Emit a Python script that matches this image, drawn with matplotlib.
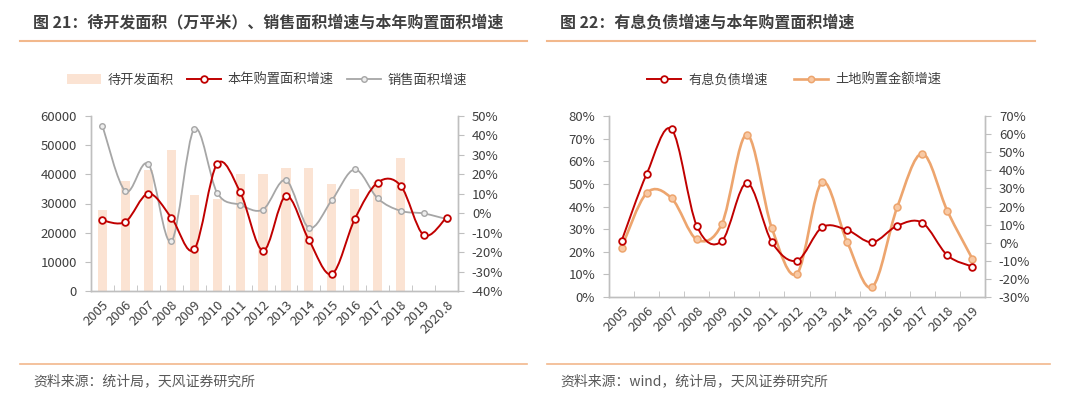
import matplotlib
matplotlib.use('Agg')
import matplotlib.pyplot as plt
from matplotlib.path import Path
from matplotlib.patches import PathPatch, Patch
from matplotlib.lines import Line2D
from matplotlib.ticker import FuncFormatter, MultipleLocator
import numpy as np

plt.rcParams['font.family'] = ['Noto Sans CJK SC', 'DejaVu Sans']

# ---- data, chart 21 ----
years_l = ['2005', '2006', '2007', '2008', '2009', '2010', '2011', '2012',
           '2013', '2014', '2015', '2016', '2017', '2018', '2019', '2020.8']
unsold_area = [27700, 37600, 41500, 48200, 32800, 31500, 40200, 40200,
               42100, 42100, 36600, 35100, 37500, 45600, np.nan, np.nan]
land_area_growth = [-3.7, -4.4, 10.1, -2.2, -18.6, 25.4, 11.0, -19.3,
                    8.9, -13.8, -31.3, -3.0, 15.8, 14.2, -11.2, -2.2]
sales_area_growth = [44.9, 11.3, 25.2, -14.5, 43.3, 10.5, 4.3, 1.9,
                     17.0, -7.5, 6.7, 22.5, 7.6, 1.2, -0.1, -3.0]

# ---- data, chart 22 ----
years_r = ['2005', '2006', '2007', '2008', '2009', '2010', '2011', '2012',
           '2013', '2014', '2015', '2016', '2017', '2018', '2019']
debt_growth = [24.7, 54.3, 74.1, 31.5, 24.7, 50.4, 24.2, 16.1,
               30.8, 29.6, 24.2, 31.5, 32.8, 18.4, 13.4]
land_amount_growth = [-2.8, 27.4, 24.5, 1.8, 10.3, 59.7, 7.9, -17.1,
                      33.5, 0.4, -24.5, 19.7, 49.2, 17.5, -9.0]

TXT = '#404040'
AX = '#BFBFBF'
RED = '#C00000'
GRAY = '#A6A6A6'
ORANGE = '#EDA56E'
BAR = '#FBE3D3'
RULE = '#F2B88C'

W, H = 1080, 399
fig = plt.figure(figsize=(W / 100, H / 100), dpi=100)
fig.patch.set_facecolor('white')


def px_axes(x0, y0, x1, y1):
    return fig.add_axes([x0 / W, 1 - y1 / H, (x1 - x0) / W, (y1 - y0) / H])


def smooth(ax, ys, color, lw, z):
    # Excel-like smoothed line: cubic Bezier through the data points
    xs = np.arange(len(ys), dtype=float)
    ys = np.asarray(ys, dtype=float)
    n = len(xs)
    verts = [(xs[0], ys[0])]
    codes = [Path.MOVETO]
    for i in range(n - 1):
        a = max(i - 1, 0)
        d = min(i + 2, n - 1)
        c1 = (xs[i] + (xs[i + 1] - xs[a]) / 6, ys[i] + (ys[i + 1] - ys[a]) / 6)
        c2 = (xs[i + 1] - (xs[d] - xs[i]) / 6, ys[i + 1] - (ys[d] - ys[i]) / 6)
        verts += [c1, c2, (xs[i + 1], ys[i + 1])]
        codes += [Path.CURVE4] * 3
    ax.add_patch(PathPatch(Path(verts, codes), facecolor='none', edgecolor=color,
                           lw=lw, zorder=z, capstyle='round', joinstyle='round'))


def style_axes(ax, ax2, n, labels):
    for a in (ax, ax2):
        a.set_facecolor('none')
        a.spines['top'].set_visible(False)
        for s in ('left', 'right', 'bottom'):
            a.spines[s].set_color(AX)
            a.spines[s].set_linewidth(1.0)
    ax.set_xlim(-0.5, n - 0.5)
    ax.set_xticks(range(n))
    ax.set_xticklabels(labels, rotation=45, ha='right', rotation_mode='anchor',
                       fontsize=9.5, color=TXT)
    ax.set_xticks(np.arange(-0.5, n, 1.0), minor=True)
    ax.tick_params(axis='x', which='major', length=0, pad=5)
    ax.tick_params(axis='x', which='minor', direction='in', length=4, color=AX)
    ax.tick_params(axis='y', which='major', direction='out', length=4, color=AX,
                   labelsize=9.5, labelcolor=TXT, pad=6)
    ax2.tick_params(axis='y', which='major', direction='out', length=4, color=AX,
                    labelsize=9.5, labelcolor=TXT, pad=6)


pct = FuncFormatter(lambda v, p: f'{v:.0f}%')

# ================= chart 21 =================
ax = px_axes(91, 116, 458, 291)
ax2 = ax.twinx()
n = len(years_l)
x = np.arange(n)
ax.bar(x, unsold_area, width=0.4, color=BAR, zorder=1)
ax.set_ylim(0, 60000)
ax.yaxis.set_major_locator(MultipleLocator(10000))
ax2.set_ylim(-40, 50)
ax2.yaxis.set_major_locator(MultipleLocator(10))
ax2.yaxis.set_major_formatter(pct)
smooth(ax2, sales_area_growth, GRAY, 1.3, 3)
ax2.plot(x, sales_area_growth, ls='none', marker='o', ms=4, mfc='#EDEDED',
         mec=GRAY, mew=1.0, zorder=4)
smooth(ax2, land_area_growth, RED, 1.4, 5)
ax2.plot(x, land_area_growth, ls='none', marker='o', ms=4.8, mfc='white',
         mec=RED, mew=1.3, zorder=6)
style_axes(ax, ax2, n, years_l)

h21 = [Patch(facecolor=BAR, edgecolor='none'),
       Line2D([], [], color=RED, lw=1.4, marker='o', ms=4.8, mfc='white', mec=RED, mew=1.3),
       Line2D([], [], color=GRAY, lw=1.3, marker='o', ms=4, mfc='#EDEDED', mec=GRAY, mew=1.0)]
fig.legend(h21, ['待开发面积', '本年购置面积增速', '销售面积增速'], loc='center',
           bbox_to_anchor=(267 / W, 1 - 80 / H), ncol=3, frameon=False,
           fontsize=9.5, labelcolor=TXT, handlelength=2.6, handletextpad=0.5,
           columnspacing=1.0)

fig.text(33 / W, 1 - 22 / H, '图 21：待开发面积（万平米）、销售面积增速与本年购置面积增速',
         fontsize=11.5, fontweight='bold', color=TXT, va='center', ha='left')
fig.add_artist(Line2D([20 / W, 527 / W], [1 - 41 / H] * 2, color=RULE, lw=1.5))
fig.add_artist(Line2D([20 / W, 527 / W], [1 - 364 / H] * 2, color=RULE, lw=1.2))
fig.text(33 / W, 1 - 381 / H, '资料来源：统计局，天风证券研究所',
         fontsize=10, color='#595959', va='center', ha='left')

# ================= chart 22 =================
bx = px_axes(609, 116, 985, 297)
bx2 = bx.twinx()
m = len(years_r)
xr = np.arange(m)
bx.set_ylim(0, 80)
bx.yaxis.set_major_locator(MultipleLocator(10))
bx.yaxis.set_major_formatter(pct)
bx2.set_ylim(-30, 70)
bx2.yaxis.set_major_locator(MultipleLocator(10))
bx2.yaxis.set_major_formatter(pct)
smooth(bx2, land_amount_growth, ORANGE, 1.9, 3)
bx2.plot(xr, land_amount_growth, ls='none', marker='o', ms=5, mfc='#F8C9A4',
         mec=ORANGE, mew=1.1, zorder=4)
smooth(bx, debt_growth, RED, 1.4, 5)
bx.plot(xr, debt_growth, ls='none', marker='o', ms=4.8, mfc='white',
        mec=RED, mew=1.3, zorder=6)
bx.set_zorder(bx2.get_zorder() + 1)
style_axes(bx, bx2, m, years_r)

h22 = [Line2D([], [], color=RED, lw=1.4, marker='o', ms=4.8, mfc='white', mec=RED, mew=1.3),
       Line2D([], [], color=ORANGE, lw=1.9, marker='o', ms=4.5, mfc='#F8C9A4', mec=ORANGE, mew=1.1)]
fig.legend(h22, ['有息负债增速', '土地购置金额增速'], loc='center',
           bbox_to_anchor=(794 / W, 1 - 80 / H), ncol=2, frameon=False,
           fontsize=9.5, labelcolor=TXT, handlelength=2.6, handletextpad=0.5,
           columnspacing=2.0)

fig.text(560 / W, 1 - 22 / H, '图 22：有息负债增速与本年购置面积增速',
         fontsize=11.5, fontweight='bold', color=TXT, va='center', ha='left')
fig.add_artist(Line2D([547 / W, 1035 / W], [1 - 41 / H] * 2, color=RULE, lw=1.5))
fig.add_artist(Line2D([547 / W, 1050 / W], [1 - 364 / H] * 2, color=RULE, lw=1.2))
fig.text(560 / W, 1 - 381 / H, '资料来源：wind，统计局，天风证券研究所',
         fontsize=10, color='#595959', va='center', ha='left')

fig.savefig('out.png', dpi=100, facecolor='white')
